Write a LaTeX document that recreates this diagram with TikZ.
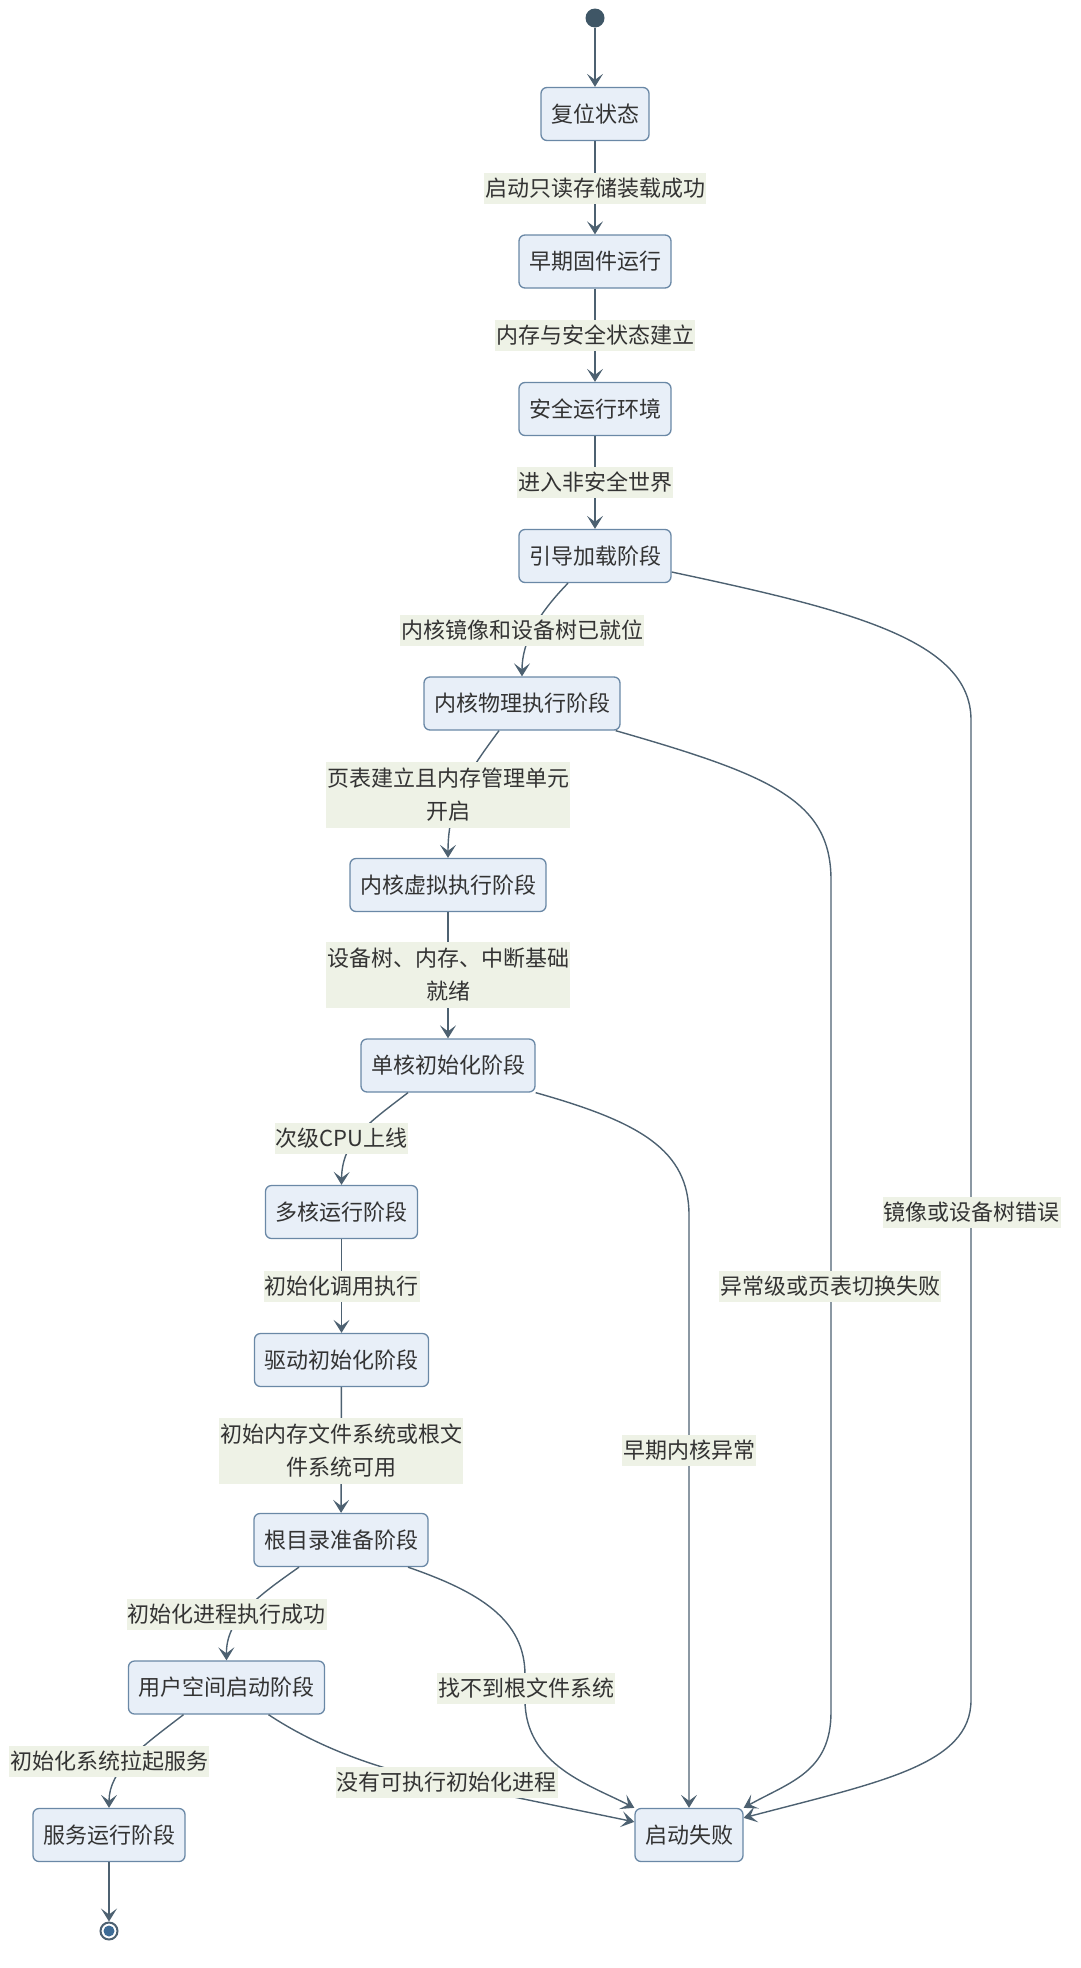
\documentclass[tikz,border=0pt]{standalone}
\usepackage{fontspec}
\setmainfont{Noto Sans CJK SC}
\usetikzlibrary{arrows.meta}
\definecolor{nodefill}{HTML}{E8EFF8}
\definecolor{nodeborder}{HTML}{6A88A6}
\definecolor{edgecol}{HTML}{4D6171}
\definecolor{lblbg}{HTML}{EEF2E6}
\definecolor{txt}{HTML}{333333}
\definecolor{startcol}{HTML}{3F5666}
\definecolor{endin}{HTML}{3E6C96}
\begin{document}
\begin{tikzpicture}[x=1pt,y=-1pt,
  state/.style={draw=nodeborder, fill=nodefill, rounded corners=6pt, line width=1.3pt,
    minimum height=53pt, inner xsep=10pt, inner ysep=0pt, text=txt,
    font=\fontsize{22}{33}\selectfont},
  lbl/.style={fill=lblbg, inner xsep=1pt, inner ysep=0pt, minimum height=31pt, text=txt,
    font=\fontsize{22}{33}\selectfont, align=center},
  lbltwo/.style={lbl, minimum height=66pt},
  edge/.style={draw=edgecol, line width=1.4pt, -{Stealth[length=13pt,width=16pt,inset=6pt]}},
]
\useasboundingbox (0,0) rectangle (1080,1968);

% states
\node[circle, fill=startcol, minimum size=19pt, inner sep=0pt] (start) at (595,18) {};
\node[state] (n1) at (595,114) {复位状态};
\node[state] (n2) at (595,261.5) {早期固件运行};
\node[state] (n3) at (595,409) {安全运行环境};
\node[state] (n4) at (595,556) {引导加载阶段};
\node[state] (n5) at (522,703.5) {内核物理执行阶段};
\node[state] (n6) at (448,885) {内核虚拟执行阶段};
\node[state] (n7) at (448,1065.5) {单核初始化阶段};
\node[state] (n8) at (341.5,1212) {多核运行阶段};
\node[state] (n9) at (341.5,1360) {驱动初始化阶段};
\node[state] (n10) at (341,1540) {根目录准备阶段};
\node[state] (n11) at (226.5,1687.5) {用户空间启动阶段};
\node[state] (n12) at (109,1835) {服务运行阶段};
\node[state] (fail) at (689,1835) {启动失败};
\node[circle, draw=edgecol, line width=2pt, fill=white, minimum size=17pt, inner sep=0pt] (end) at (109,1931) {};
\fill[endin] (end.center) circle (5.5pt);

% main chain
\draw[edge] (start) -- (n1);
\draw[edge] (n1) -- (n2);
\draw[edge] (n2) -- (n3);
\draw[edge] (n3) -- (n4);
\draw[edge] ([xshift=-27pt]n4.south) .. controls (540,612) and (522,640) .. (n5.north);
\draw[edge] ([xshift=-23pt]n5.south) .. controls (470,770) and (448,800) .. (n6.north);
\draw[edge] (n6) -- (n7);
\draw[edge] ([xshift=-40pt]n7.south) .. controls (370,1122) and (342,1140) .. (n8.north);
\draw[edge] (n8) -- (n9);
\draw[edge] (n9) -- (n10);
\draw[edge] ([xshift=-42pt]n10.south) .. controls (255,1598) and (226,1620) .. (n11.north);
\draw[edge] ([xshift=-43pt]n11.south) .. controls (140,1748) and (109,1770) .. (n12.north);
\draw[edge] (n12) -- (end);

% failure edges
\draw[edge] ([yshift=-16pt]n4.east) .. controls (850,610) and (971,640) .. (971,720)
  -- (971,1700) .. controls (971,1765) and (880,1782) .. ([yshift=-10pt]fail.north east);
\draw[edge] ([xshift=-5pt]n5.south east) .. controls (770,775) and (831,800) .. (831,880)
  -- (831,1712) .. controls (831,1772) and (790,1782) .. (fail.north east);
\draw[edge] (n7.south east) .. controls (640,1122) and (689,1150) .. (689,1215) -- (fail.north);
\draw[edge] ([xshift=67pt]n10.south) .. controls (480,1592) and (525,1620) .. (525,1675)
  -- (525,1700) .. controls (525,1765) and (590,1785) .. (fail.north west);
\draw[edge] ([xshift=42pt]n11.south) .. controls (325,1752) and (390,1772) .. (446,1783)
  -- ([yshift=-14pt]fail.north west);

% labels
\node[lbl] (l1) at (595,188.5) {启动只读存储装载成功};
\node[lbl] (l2) at (595,335) {内存与安全状态建立};
\node[lbl] (l3) at (595,482) {进入非安全世界};
\node[lbl] (l4) at (522,630.5) {内核镜像和设备树已就位};
\node[lbltwo] (l5) at (448,794.5) {页表建立且内存管理单元\\开启};
\node[lbltwo] (l6) at (448,975) {设备树、内存、中断基础\\就绪};
\node[lbl] (l7) at (341.5,1138) {次级CPU上线};
\node[lbl] (l8) at (341.5,1286) {初始化调用执行};
\node[lbltwo] (l9) at (341,1451) {初始内存文件系统或根文\\件系统可用};
\node[lbl] (l10) at (226.5,1614.5) {初始化进程执行成功};
\node[lbl] (l11) at (109,1761) {初始化系统拉起服务};
\node[lbl] (lf1) at (971.5,1212) {镜像或设备树错误};
\node[lbl] (lf2) at (830,1286) {异常级或页表切换失败};
\node[lbl] (lf3) at (689,1450) {早期内核异常};
\node[lbl] (lf4) at (526,1688) {找不到根文件系统};
\node[lbl] (lf5) at (446.5,1782.5) {没有可执行初始化进程};
\end{tikzpicture}
\end{document}
